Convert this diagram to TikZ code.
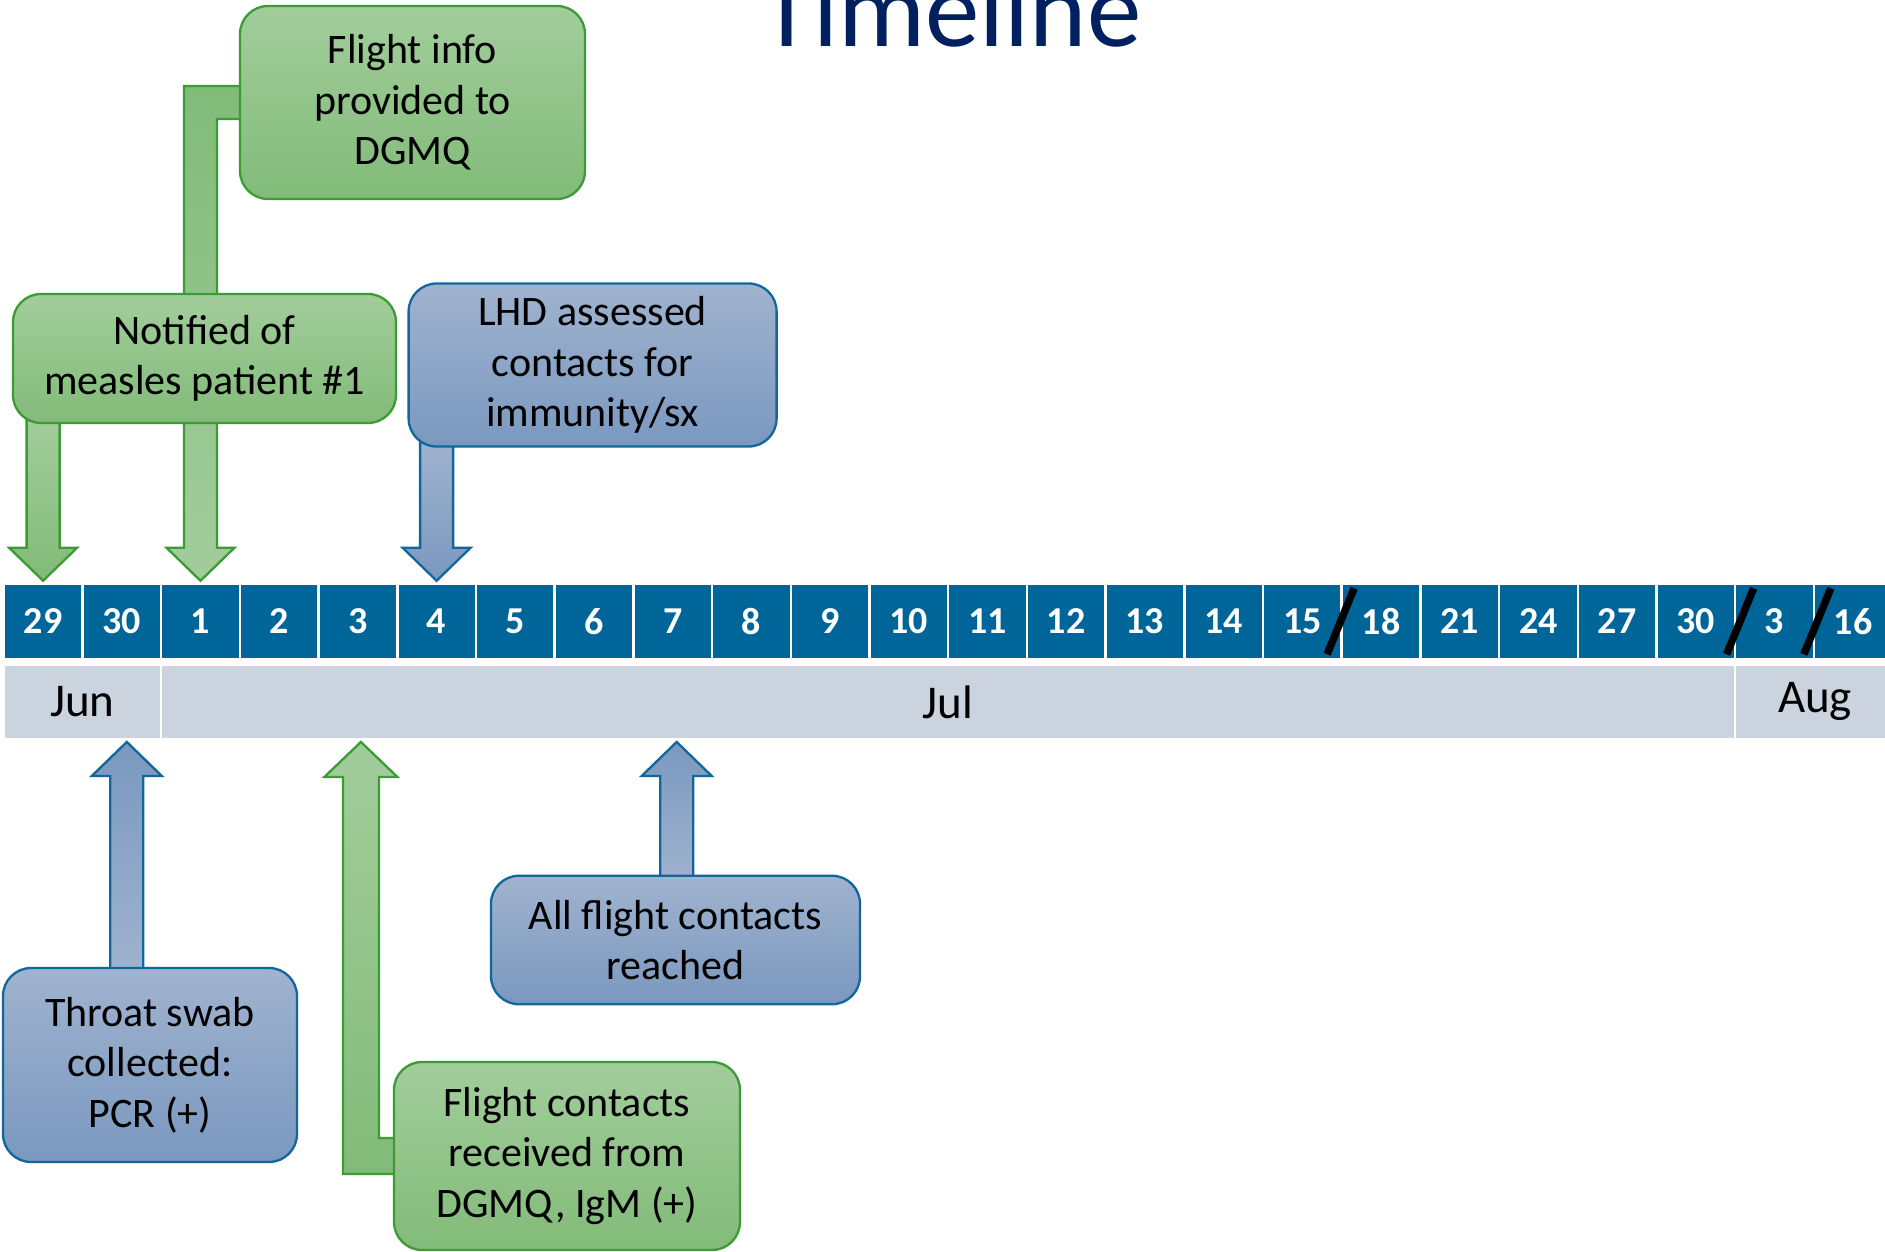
\documentclass[tikz,border=0pt]{standalone}
\usepackage{fontspec}
\setmainfont{Carlito}
\usetikzlibrary{calc,backgrounds}

\definecolor{cellblue}{RGB}{0,101,153}
\definecolor{monthgray}{RGB}{203,211,223}
\definecolor{titleblue}{RGB}{0,32,96}
\definecolor{gtop}{RGB}{162,205,155}
\definecolor{gbot}{RGB}{130,187,121}
\definecolor{gline}{RGB}{59,155,52}
\definecolor{btop}{RGB}{160,179,207}
\definecolor{bbot}{RGB}{122,152,191}
\definecolor{bline}{RGB}{17,103,155}

\newcommand\boxfont{\fontsize{42}{50.5}\selectfont}
\newcommand\cellfont{\fontsize{38}{45}\selectfont\bfseries}
\newcommand\monthfont{\fontsize{47}{56}\selectfont}
\newcommand\titlefont{\fontsize{109}{130}\selectfont}

% block arrow down: style, box, tip
\newcommand\downarr[3]{%
\draw[#1] let \p1=(#2.south), \p2=(#3) in
  ({\x2-16.5pt},{\y1+8pt}) -- ({\x2-16.5pt},{\y2+33pt}) -- ({\x2-34pt},{\y2+33pt}) -- (\x2,\y2)
  -- ({\x2+34pt},{\y2+33pt}) -- ({\x2+16.5pt},{\y2+33pt}) -- ({\x2+16.5pt},{\y1+8pt}) -- cycle;}

% block arrow up: style, box, tip
\newcommand\uparr[3]{%
\draw[#1] let \p1=(#2.north), \p2=(#3) in
  ({\x2-16.5pt},{\y1-8pt}) -- ({\x2-16.5pt},{\y2-34pt}) -- ({\x2-35pt},{\y2-34pt}) -- (\x2,\y2)
  -- ({\x2+35pt},{\y2-34pt}) -- ({\x2+16.5pt},{\y2-34pt}) -- ({\x2+16.5pt},{\y1-8pt}) -- cycle;}

\tikzset{
  cellbox/.style={fill=cellblue, text=white, font=\cellfont, minimum width=76.2pt, minimum height=72.7pt, inner sep=0pt},
  monthbox/.style={fill=monthgray, font=\monthfont, minimum height=71.7pt, inner sep=0pt},
  gbox/.style={draw=gline, line width=2.3pt, rounded corners=28pt, top color=gtop, bottom color=gbot, align=center, font=\boxfont, inner sep=0pt},
  bbox/.style={draw=bline, line width=2.3pt, rounded corners=28pt, top color=btop, bottom color=bbot, align=center, font=\boxfont, inner sep=0pt},
  garrow/.style={draw=gline, line width=2.3pt, top color=gtop, bottom color=gbot},
  barrow/.style={draw=bline, line width=2.3pt, top color=btop, bottom color=bbot},
  breakmark/.style={line width=7.5pt},
}

\begin{document}
\begin{tikzpicture}[x=1pt,y=-1pt]
\useasboundingbox (0,0) rectangle (1885,1252);

% title, cut at the top
\node[font=\titlefont, text=titleblue, anchor=base] (title) at (951,47) {Timeline};

% days
\foreach \d [count=\i from 0] in {29,30,1,2,3,4,5,6,7,8,9,10,11,12,13,14,15,18,21,24,27,30,3,16}
  \node[cellbox] (c\i) at ({43.1+78.7*\i},621.3) {\d};

% months
\node[monthbox, minimum width=154.5pt] (mjun) at (82.25,701.9) {Jun};
\node[monthbox, minimum width=1571.5pt] (mjul) at (947.75,701.9) {Jul};
\node[monthbox, minimum width=157.5pt] (maug) at (1815,701.9) {Aug};

% gaps in the scale
\draw[breakmark] ($(c16.east)+(-13.5,33)$) -- ($(c16.east)+(13.5,-33)$);
\draw[breakmark] ($(c21.east)+(-7.5,33)$) -- ($(c21.east)+(19.5,-33)$);
\draw[breakmark] ($(c22.east)+(-9,33)$) -- ($(c22.east)+(18,-33)$);

% above
\node[gbox, minimum width=345pt, minimum height=193pt] (fi) at (412.5,102.5) {Flight info\\provided to\\DGMQ};
\node[gbox, minimum width=383pt, minimum height=129pt] (nt) at (204.5,358.5) {Notified of\\measles patient \#1};
\node[bbox, minimum width=368pt, minimum height=163pt] (lhd) at (592.6,365) {LHD assessed\\contacts for\\immunity/sx};

% below
\node[bbox, minimum width=294pt, minimum height=194pt] (ts) at (150,1065) {Throat swab\\collected:\\PCR (+)};
\node[bbox, minimum width=369pt, minimum height=128.5pt] (afc) at (675.5,940) {All flight contacts\\reached};
\node[gbox, minimum width=346pt, minimum height=188pt] (fcr) at (567,1156) {Flight contacts\\received from\\DGMQ, IgM (+)};

\coordinate (tip29) at ($(c0.north)+(0,-4)$);
\coordinate (tip1) at ($(c2.north)+(0,-4)$);
\coordinate (tip4) at ($(c5.north)+(0,-4)$);
\coordinate (tip30) at ($(c1.center |- mjun.south)+(5,4)$);
\coordinate (tip3) at ($(c4.center |- mjul.south)+(3,4)$);
\coordinate (tip7) at ($(c8.center |- mjul.south)+(4,4)$);

\begin{scope}[on background layer]
\downarr{garrow}{nt}{tip29}
\downarr{barrow}{lhd}{tip4}
\uparr{barrow, top color=bbot, bottom color=btop}{ts}{tip30}
\uparr{barrow, top color=bbot, bottom color=btop}{afc}{tip7}
% bent one from the flight info
\draw[garrow, top color=gbot, bottom color=gtop] let \p1=(fi.west), \p2=(tip1) in
  ({\x1+8pt},{\y1+16.5pt}) -- ({\x2-16.5pt},{\y1+16.5pt}) -- ({\x2-16.5pt},{\y2+33pt}) -- ({\x2-34pt},{\y2+33pt}) -- (\x2,\y2)
  -- ({\x2+34pt},{\y2+33pt}) -- ({\x2+16.5pt},{\y2+33pt}) -- ({\x2+16.5pt},{\y1-16.5pt}) -- ({\x1+8pt},{\y1-16.5pt}) -- cycle;
% bent one from the flight contacts
\draw[garrow] let \p1=(fcr.west), \p2=(tip3) in
  ({\x1+8pt},{\y1-18pt}) -- ({\x2-18pt},{\y1-18pt}) -- ({\x2-18pt},{\y2-35pt}) -- ({\x2-36.5pt},{\y2-35pt}) -- (\x2,\y2)
  -- ({\x2+36.5pt},{\y2-35pt}) -- ({\x2+18pt},{\y2-35pt}) -- ({\x2+18pt},{\y1+18pt}) -- ({\x1+8pt},{\y1+18pt}) -- cycle;
\end{scope}
\end{tikzpicture}
\end{document}
